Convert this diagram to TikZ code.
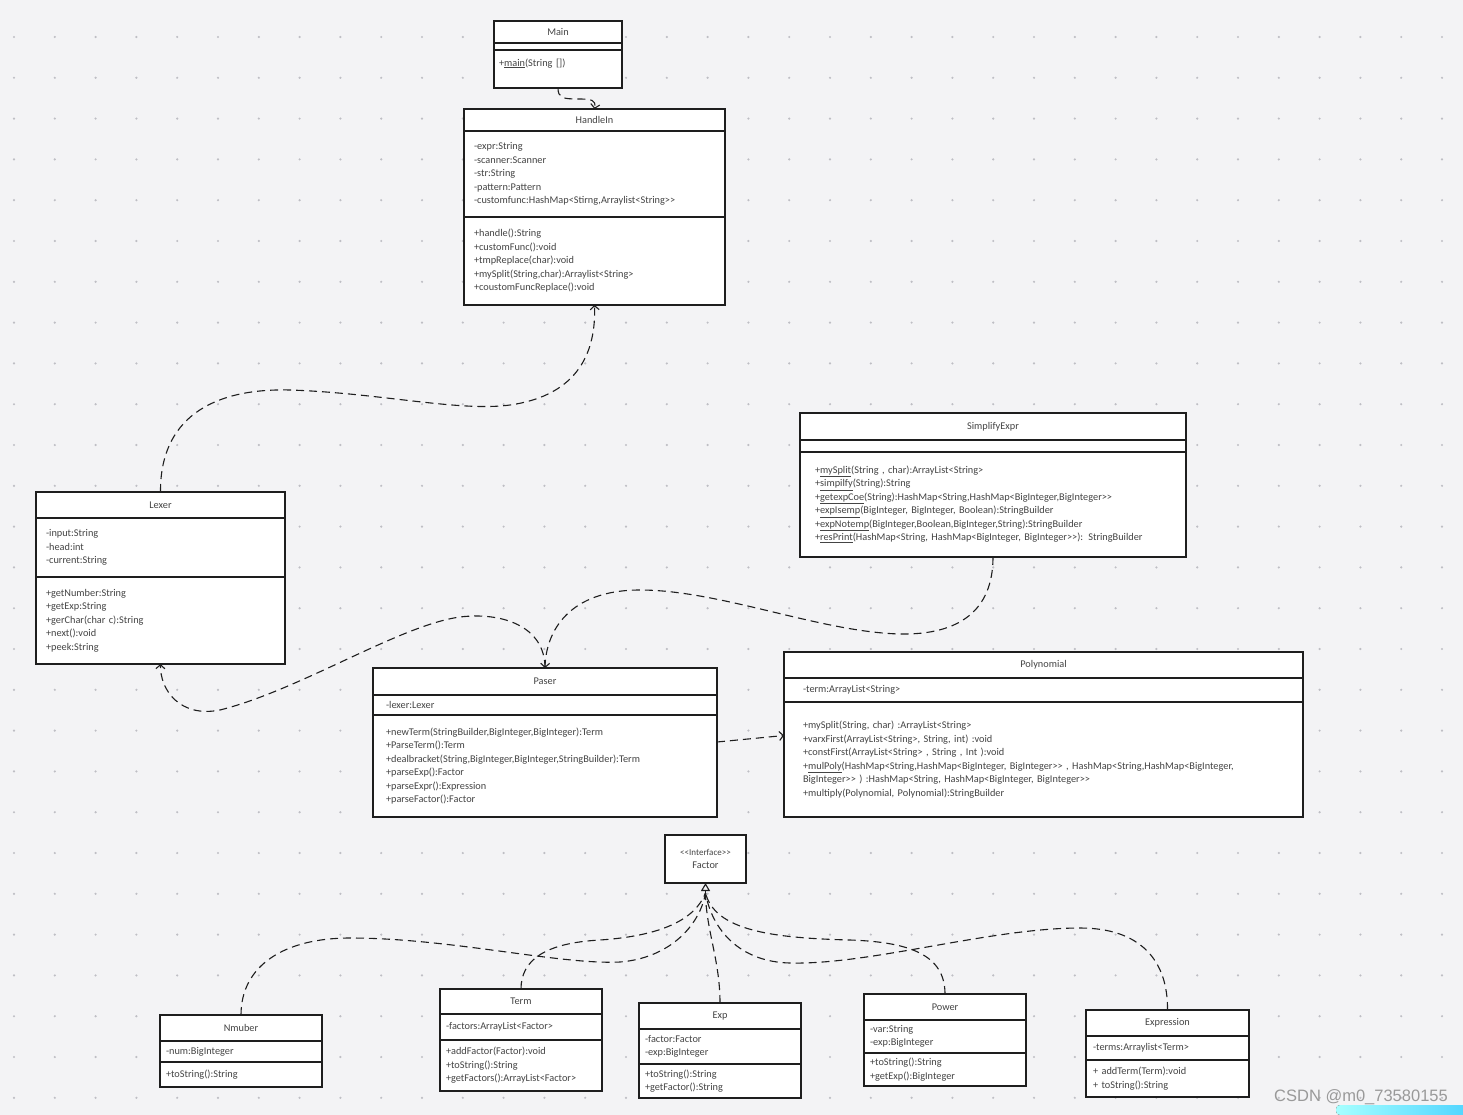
\documentclass[tikz,border=0pt]{standalone}
\usepackage{fontspec}
\newfontfamily\umlfont{Carlito}
\newfontfamily\markfont{Liberation Sans}
\usetikzlibrary{arrows.meta,positioning}
\definecolor{canvas}{HTML}{F3F3F5}
\definecolor{griddot}{HTML}{BEBEC4}
\definecolor{umlline}{HTML}{1E1E1E}
\definecolor{umltext}{HTML}{444444}
\tikzset{
    classhead/.style={draw=umlline, fill=white, line width=1.2pt, align=center,
    font=\umlfont\fontsize{10.3}{13.5}\selectfont, text=umltext, inner sep=0pt, outer sep=0pt},
    classpart/.style={draw=umlline, fill=white, line width=1.2pt, align=left,
    font=\umlfont\fontsize{10.3}{13.5}\selectfont, text=umltext, inner ysep=0pt, outer sep=0pt},
    dep/.style={draw=umlline, line width=1.1pt, dash pattern=on 8pt off 5pt,
    -{Straight Barb[length=4pt, width=9pt]}},
    realize/.style={draw=umlline, line width=1.1pt, dash pattern=on 8pt off 5pt},
}

\begin{document}
\begin{tikzpicture}[x=1pt, y=-1pt, node distance=0pt]
    % canvas and dot grid
    \fill[canvas] (0,0) rectangle (1463,1115);
    \useasboundingbox (0,0) rectangle (1463,1115);
    \foreach \i in {0,...,35}
        \foreach \j in {0,...,26}
            \fill[griddot] (14+40.8*\i, 37+40.8*\j) circle (1.2pt);

    % Main
    \node[classhead, minimum width=128pt, minimum height=22pt] (mainHead) at (558,32) {Main};
    \node[classpart, minimum width=128pt, minimum height=7pt, below=of mainHead] (mainAttr) {};
    \node[classpart, text width=118pt, inner xsep=5pt, minimum height=38pt, below=of mainAttr] (mainOps)
        {+\underline{main}(String [])\\ \mbox{}};

    % HandleIn
    \node[classhead, minimum width=261pt, minimum height=22pt] (hInHead) at (594.5,120) {HandleIn};
    \node[classpart, text width=241pt, inner xsep=10pt, minimum height=86pt, below=of hInHead] (hInAttr)
        {-expr:String\\-scanner:Scanner\\-str:String\\-pattern:Pattern\\-customfunc:HashMap<Stirng,Arraylist<String>>};
    \node[classpart, text width=241pt, inner xsep=10pt, minimum height=88pt, below=of hInAttr] (hInOps)
        {+handle():String\\+customFunc():void\\+tmpReplace(char):void\\+mySplit(String,char):Arraylist<String>\\+coustomFuncReplace():void};

    % SimplifyExpr
    \node[classhead, minimum width=386pt, minimum height=27pt] (simHead) at (993,426.5) {SimplifyExpr};
    \node[classpart, minimum width=386pt, minimum height=12pt, below=of simHead] (simAttr) {};
    \node[classpart, text width=356pt, inner xsep=15pt, minimum height=105pt, below=of simAttr] (simOps)
        {+\underline{mySplit}(String , char):ArrayList<String>\\
         +\underline{simpilfy}(String):String\\
         +\underline{getexpCoe}(String):HashMap<String,HashMap<BigInteger,BigInteger>>\\
         +\underline{expIsemp}(BigInteger, BigInteger, Boolean):StringBuilder\\
         +\underline{expNotemp}(BigInteger,Boolean,BigInteger,String):StringBuilder\\
         +\underline{resPrint}(HashMap<String, HashMap<BigInteger, BigInteger>>): StringBuilder};

    % Lexer
    \node[classhead, minimum width=249pt, minimum height=26pt] (lexHead) at (160.5,505) {Lexer};
    \node[classpart, text width=229pt, inner xsep=10pt, minimum height=59pt, below=of lexHead] (lexAttr)
        {-input:String\\-head:int\\-current:String};
    \node[classpart, text width=229pt, inner xsep=10pt, minimum height=87pt, below=of lexAttr] (lexOps)
        {+getNumber:String\\+getExp:String\\+gerChar(char c):String\\+next():void\\+peek:String};

    % Paser
    \node[classhead, minimum width=344pt, minimum height=27pt] (paserHead) at (545,681.5) {Paser};
    \node[classpart, text width=318pt, inner xsep=13pt, minimum height=20pt, below=of paserHead] (paserAttr)
        {-lexer:Lexer};
    \node[classpart, text width=318pt, inner xsep=13pt, minimum height=102pt, below=of paserAttr] (paserOps)
        {+newTerm(StringBuilder,BigInteger,BigInteger):Term\\
         +ParseTerm():Term\\
         +dealbracket(String,BigInteger,BigInteger,StringBuilder):Term\\
         +parseExp():Factor\\
         +parseExpr():Expression\\
         +parseFactor():Factor};

    % Polynomial
    \node[classhead, minimum width=519pt, minimum height=26pt] (polyHead) at (1043.5,665) {Polynomial};
    \node[classpart, text width=481pt, inner xsep=19pt, minimum height=24pt, below=of polyHead] (polyAttr)
        {-term:ArrayList<String>};
    \node[classpart, text width=481pt, inner xsep=19pt, minimum height=115pt, below=of polyAttr] (polyOps)
        {+mySplit(String, char) :ArrayList<String>\\
         +varxFirst(ArrayList<String>, String, int) :void\\
         +constFirst(ArrayList<String> , String , Int ):void\\
         +\underline{mulPoly}(HashMap<String,HashMap<BigInteger, BigInteger>> , HashMap<String,HashMap<BigInteger,\\
         BigInteger>> ) :HashMap<String, HashMap<BigInteger, BigInteger>>\\
         +multiply(Polynomial, Polynomial):StringBuilder};

    % Factor
    \node[classhead, minimum width=81pt, minimum height=48pt] (factor) at (705.5,859)
        {{\fontsize{9}{13.5}\selectfont <<Interface>>}\\Factor};

    % Nmuber
    \node[classhead, minimum width=162pt, minimum height=26pt] (numHead) at (241,1028) {Nmuber};
    \node[classpart, text width=150pt, inner xsep=6pt, minimum height=21pt, below=of numHead] (numAttr)
        {-num:BigInteger};
    \node[classpart, text width=150pt, inner xsep=6pt, minimum height=25pt, below=of numAttr] (numOps)
        {+toString():String};

    % Term
    \node[classhead, minimum width=162pt, minimum height=25pt] (termHead) at (521,1001.5) {Term};
    \node[classpart, text width=150pt, inner xsep=6pt, minimum height=26pt, below=of termHead] (termAttr)
        {-factors:ArrayList<Factor>};
    \node[classpart, text width=150pt, inner xsep=6pt, minimum height=51pt, below=of termAttr] (termOps)
        {+addFactor(Factor):void\\+toString():String\\+getFactors():ArrayList<Factor>};

    % Exp
    \node[classhead, minimum width=162pt, minimum height=26pt] (expHead) at (720,1016) {Exp};
    \node[classpart, text width=150pt, inner xsep=6pt, minimum height=35pt, below=of expHead] (expAttr)
        {-factor:Factor\\-exp:BigInteger};
    \node[classpart, text width=150pt, inner xsep=6pt, minimum height=34pt, below=of expAttr] (expOps)
        {+toString():String\\+getFactor():String};

    % Power
    \node[classhead, minimum width=162pt, minimum height=26pt] (powHead) at (945,1007) {Power};
    \node[classpart, text width=150pt, inner xsep=6pt, minimum height=33pt, below=of powHead] (powAttr)
        {-var:String\\-exp:BigInteger};
    \node[classpart, text width=150pt, inner xsep=6pt, minimum height=33pt, below=of powAttr] (powOps)
        {+toString():String\\+getExp():BigInteger};

    % Expression
    \node[classhead, minimum width=163pt, minimum height=26pt] (exprHead) at (1167.5,1023) {Expression};
    \node[classpart, text width=149pt, inner xsep=7pt, minimum height=24pt, below=of exprHead] (exprAttr)
        {-terms:Arraylist<Term>};
    \node[classpart, text width=149pt, inner xsep=7pt, minimum height=37pt, below=of exprAttr] (exprOps)
        {+ addTerm(Term):void\\+ toString():String};

    % dependencies
    \draw[dep] (mainOps.south) .. controls (558,98) and (563,99) .. (578,99)
        .. controls (592,99) and (596,100) .. (hInHead.north);
    \draw[dep] (lexHead.north) .. controls (160,420) and (210,388) .. (290,390)
        .. controls (380,393) and (460,412) .. (510,405)
        .. controls (580,395) and (596,350) .. (hInOps.south);
    \draw[dep] (simOps.south) .. controls (993,610) and (960,635) .. (900,634)
        .. controls (820,632) and (720,590) .. (640,590)
        .. controls (570,590) and (546,630) .. (paserHead.north);
    \draw[dep] (paserHead.north) .. controls (545,625) and (500,612) .. (460,617)
        .. controls (400,625) and (300,690) .. (220,710)
        .. controls (180,718) and (160,690) .. (lexOps.south);
    \draw[dep] ([yshift=24pt]paserOps.east) -- ([yshift=24pt]polyOps.west);

    % realizations of Factor
    \coordinate (fBase) at ([yshift=-10pt]factor.south);
    \draw[realize] (numHead.north) .. controls (241,965) and (285,938) .. (350,938)
        .. controls (450,938) and (560,965) .. (620,962)
        .. controls (670,958) and (700,925) .. (fBase);
    \draw[realize] (termHead.north) .. controls (521,960) and (545,943) .. (600,940)
        .. controls (660,936) and (695,920) .. (fBase);
    \draw[realize] (expHead.north) .. controls (720,960) and (706,930) .. (fBase);
    \draw[realize] (powHead.north) .. controls (945,955) and (910,942) .. (850,940)
        .. controls (770,938) and (715,930) .. (fBase);
    \draw[realize] (exprHead.north) .. controls (1168,960) and (1140,928) .. (1080,928)
        .. controls (990,928) and (870,965) .. (790,963)
        .. controls (740,962) and (712,930) .. (fBase);
    \draw[draw=umlline, line width=1.1pt, -{Triangle[open, length=8pt, width=9pt]}] (fBase) -- (factor.south);

    % watermark
    \fill[left color=cyan!35, right color=cyan!75!blue!70, rounded corners=4pt]
        (1336,1115) rectangle (1475,1105);
    \node[font=\markfont\fontsize{16.5}{18}\selectfont, text=black!40, anchor=east, inner sep=0pt] (mark) at (1448,1097)
        {CSDN @m0\_73580155};
\end{tikzpicture}
\end{document}
